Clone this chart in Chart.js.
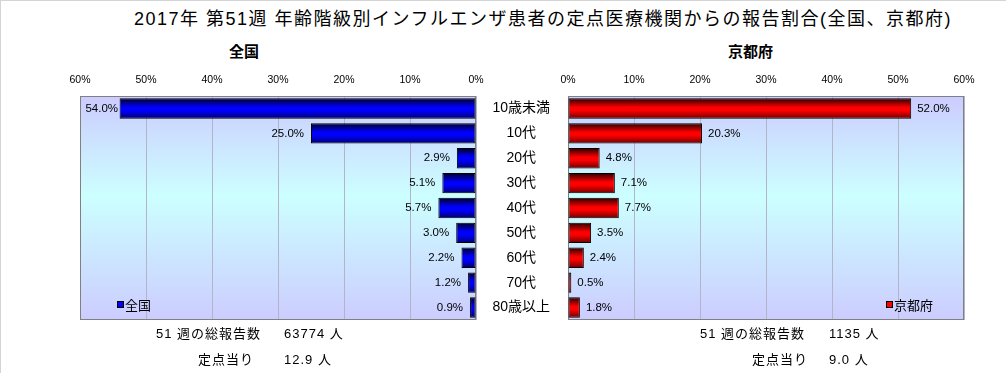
<!DOCTYPE html>
<html>
<head>
<meta charset="utf-8">
<script src="https://cdn.jsdelivr.net/npm/chart.js@4"></script>
<style>
  body { margin: 0; background: #fff; }
  #page { position: relative; width: 1006px; height: 373px; overflow: hidden; box-sizing: border-box;
    border-left: 1px solid #d4d4d4; border-top: 1px solid #d4d4d4;
    font-family: 'Liberation Sans', 'Noto Sans CJK JP', sans-serif; color: #000; }
  .abs { position: absolute; white-space: nowrap; line-height: 18px; }
  .sq { display: inline-block; width: 5px; height: 5px; border: 1px solid #000; margin-right: 1px; vertical-align: 2px; }
  .note { font-size: 13px; letter-spacing: 1px; }
</style>
</head>
<body>
<div id="page">
  <div class="abs" id="title" style="left:133px; top:6px; font-size:18px; letter-spacing:1.5px; line-height:24px;">2017年 第51週 年齢階級別インフルエンザ患者の定点医療機関からの報告割合(全国、京都府)</div>
  <div class="abs" style="left:228px; top:42px; font-size:15px; font-weight:bold;">全国</div>
  <div class="abs" style="left:727px; top:42px; font-size:15px; font-weight:bold;">京都府</div>

  <div style="position:absolute; left:0; top:60px; width:490px; height:260px;"><canvas id="leftChart"></canvas></div>
  <div style="position:absolute; left:476px; top:60px; width:530px; height:260px;"><canvas id="rightChart"></canvas></div>

  <div class="abs" style="left:116px; top:296px; font-size:13px;"><span class="sq" style="background:#0000ff"></span>全国</div>
  <div class="abs" style="left:885px; top:296px; font-size:13px;"><span class="sq" style="background:#ff0000"></span>京都府</div>

  <div class="abs note" style="left:155px; top:324px;">51 週の総報告数</div>
  <div class="abs note" style="left:283px; top:324px;">63774 人</div>
  <div class="abs note" style="left:197px; top:350px;">定点当り</div>
  <div class="abs note" style="left:283px; top:350px;">12.9 人</div>

  <div class="abs note" style="left:699px; top:324px;">51 週の総報告数</div>
  <div class="abs note" style="left:828px; top:324px;">1135 人</div>
  <div class="abs note" style="left:751px; top:350px;">定点当り</div>
  <div class="abs note" style="left:828px; top:350px;">9.0 人</div>
</div>
<script>
const FONT = "'Liberation Sans', 'Noto Sans CJK JP', sans-serif";

// age groups
const categories = ['10歳未満', '10代', '20代', '30代', '40代', '50代', '60代', '70代', '80歳以上'];
// share of reports (%)
const nationalValues = [54.0, 25.0, 2.9, 5.1, 5.7, 3.0, 2.2, 1.2, 0.9];
const kyotoValues = [52.0, 20.3, 4.8, 7.1, 7.7, 3.5, 2.4, 0.5, 1.8];
const axisMin = 0;
const axisMax = 60;
const axisStep = 10;

Chart.defaults.font.family = FONT;
Chart.defaults.color = '#000';
Chart.defaults.animation = false;

// gradient for each bar, dark at top and bottom
function barGradient(c, dark, mid, dark2) {
    const chart = c.chart;
    const yScale = chart.scales.y;
    if (!yScale || c.dataIndex === undefined) return mid;
    const yc = yScale.getPixelForValue(c.dataIndex);
    if (!isFinite(yc)) return mid;
    const h = 10;
    const g = chart.ctx.createLinearGradient(0, yc - h, 0, yc + h);
    g.addColorStop(0, dark);
    g.addColorStop(0.45, mid);
    g.addColorStop(0.6, mid);
    g.addColorStop(1, dark2);
    return g;
}

// plot area background + frame
const plotBg = {
    id: 'plotBg',
    beforeDraw(chart) {
        const { ctx, chartArea: a } = chart;
        if (!a) return;
        const g = ctx.createLinearGradient(0, a.top, 0, a.bottom);
        g.addColorStop(0, '#ccccff');
        g.addColorStop(0.45, '#ccffff');
        g.addColorStop(1, '#ccccff');
        ctx.save();
        ctx.fillStyle = g;
        ctx.fillRect(a.left, a.top, a.right - a.left, a.bottom - a.top);
        ctx.restore();
    },
    beforeDatasetsDraw(chart) {
        const { ctx, chartArea: a } = chart;
        ctx.save();
        ctx.strokeStyle = '#808080';
        ctx.lineWidth = 1;
        ctx.strokeRect(a.left + 0.5, a.top + 0.5, a.right - a.left - 1, a.bottom - a.top - 1);
        ctx.restore();
    }
};

// value labels at bar ends
const valueLabels = {
    id: 'valueLabels',
    afterDatasetsDraw(chart, args, opts) {
        const { ctx } = chart;
        const meta = chart.getDatasetMeta(0);
        const data = chart.data.datasets[0].data;
        ctx.save();
        ctx.font = '11.5px ' + FONT;
        ctx.fillStyle = '#000';
        ctx.textBaseline = 'middle';
        meta.data.forEach((bar, i) => {
            const txt = data[i].toFixed(1) + '%';
            if (opts.side === 'left') {
                ctx.textAlign = 'right';
                ctx.fillText(txt, Math.max(bar.x - 7, chart.chartArea.left + 38), bar.y);
            } else {
                ctx.textAlign = 'left';
                ctx.fillText(txt, bar.x + 6, bar.y);
            }
        });
        ctx.restore();
    }
};

// no extra room for edge labels, the panels are placed by hand
function noPad(s) {
    s.paddingLeft = 0;
    s.paddingRight = 0;
    s.paddingTop = 0;
    s.paddingBottom = 0;
}

function xAxis(reverse) {
    return {
        type: 'linear',
        position: 'top',
        reverse: reverse,
        min: axisMin,
        max: axisMax,
        afterFit: s => { s.height = 35; noPad(s); },
        ticks: { stepSize: axisStep, padding: 10, font: { size: 10.5 }, callback: v => v + '%' },
        grid: { color: '#b4b4c8', drawTicks: false },
        border: { display: false }
    };
}

// 全国 (reversed, bars grow to the left)
new Chart(document.getElementById('leftChart'), {
    type: 'bar',
    data: {
        labels: categories,
        datasets: [{
            label: '全国',
            data: nationalValues,
            backgroundColor: c => barGradient(c, '#000028', '#0000ff', '#000070'),
            borderColor: '#000',
            borderWidth: 1,
            borderSkipped: false,
            barPercentage: 0.82,
            categoryPercentage: 1
        }]
    },
    options: {
        indexAxis: 'y',
        responsive: true,
        maintainAspectRatio: false,
        layout: { padding: { left: 79, right: 15, top: 0, bottom: 1 } },
        scales: {
            x: xAxis(true),
            y: { display: false }
        },
        plugins: { legend: { display: false }, tooltip: { enabled: false }, valueLabels: { side: 'left' } }
    },
    plugins: [plotBg, valueLabels]
});

// 京都府, category names sit on its y axis between the two panels
new Chart(document.getElementById('rightChart'), {
    type: 'bar',
    data: {
        labels: categories,
        datasets: [{
            label: '京都府',
            data: kyotoValues,
            backgroundColor: c => barGradient(c, '#280000', '#ff0000', '#700000'),
            borderColor: '#000',
            borderWidth: 1,
            borderSkipped: false,
            barPercentage: 0.82,
            categoryPercentage: 1
        }]
    },
    options: {
        indexAxis: 'y',
        responsive: true,
        maintainAspectRatio: false,
        layout: { padding: { left: 0, right: 43, top: 0, bottom: 1 } },
        scales: {
            x: xAxis(false),
            y: {
                position: 'left',
                afterFit: s => { s.width = 91; noPad(s); },
                ticks: { crossAlign: 'center', padding: 18, font: { size: 14 } },
                grid: { display: false, drawTicks: false },
                border: { display: false }
            }
        },
        plugins: { legend: { display: false }, tooltip: { enabled: false }, valueLabels: { side: 'right' } }
    },
    plugins: [plotBg, valueLabels]
});
</script>
</body>
</html>
